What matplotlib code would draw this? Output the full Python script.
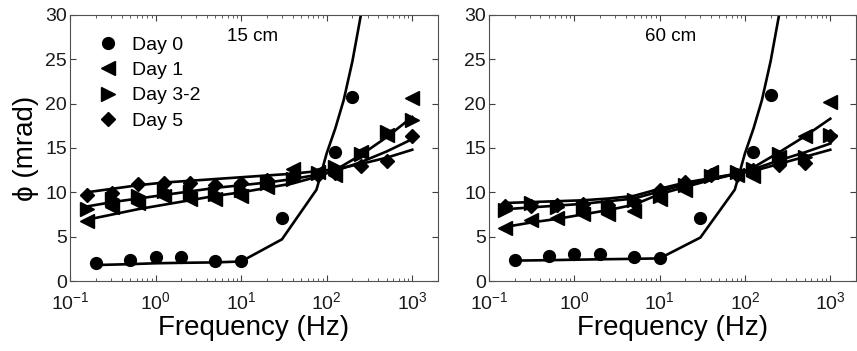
import matplotlib
matplotlib.use("Agg")
import matplotlib.pyplot as plt
from matplotlib.ticker import LogLocator, NullFormatter

plt.rcParams['font.family'] = ['Liberation Sans', 'DejaVu Sans']
plt.rcParams['mathtext.default'] = 'regular'

# frequencies (Hz)
freq_day0 = [0.2, 0.5, 1, 2, 5, 10, 30, 125, 200]
fit_freq_day0 = [0.2, 0.5, 1, 2, 5, 10, 30, 76, 100, 126, 158, 200, 251, 316]
freq = [0.156, 0.3125, 0.625, 1.25, 2.5, 5, 10, 20, 40, 80, 125, 250, 500, 1000]

labels = ['Day 0', 'Day 1', 'Day 3-2', 'Day 5']
markers = ['o', '<', '>', 'D']

# 15 cm panel
d0_15 = [2.0, 2.4, 2.7, 2.7, 2.3, 2.2, 7.1, 14.6, 20.8]
d0_fit_15 = [1.8, 1.9, 2.0, 2.05, 2.1, 2.2, 4.7, 10.3, 14.4, 17.2, 20.4, 24.8, 30.0, 36.0]
d1_15 = [6.8, 8.3, 8.8, 9.6, 9.2, 9.3, 9.6, 10.6, 12.6, 12.3, 12.0, 14.6, 16.5, 20.6]
d32_15 = [8.1, 9.3, 9.6, 10.2, 10.0, 9.8, 10.3, 11.0, 11.5, 12.2, 12.9, 14.3, 16.8, 18.2]
d5_15 = [9.7, 9.9, 10.9, 11.1, 11.0, 10.8, 11.0, 11.4, 11.8, 12.0, 12.2, 13.0, 13.5, 16.4]
d1_fit_15 = [6.9, 7.5, 8.1, 8.6, 9.1, 9.6, 10.0, 10.5, 11.0, 11.8, 12.5, 14.2, 16.2, 18.5]
d32_fit_15 = [8.4, 8.9, 9.3, 9.7, 10.1, 10.5, 10.8, 11.1, 11.5, 12.0, 12.4, 13.4, 14.6, 16.0]
d5_fit_15 = [10.0, 10.4, 10.8, 11.1, 11.3, 11.5, 11.7, 11.9, 12.1, 12.4, 12.6, 13.2, 13.9, 14.8]

# 60 cm panel
d0_60 = [2.4, 2.8, 3.1, 3.0, 2.7, 2.6, 7.1, 14.6, 21.0]
d0_fit_60 = [2.3, 2.35, 2.4, 2.45, 2.5, 2.55, 4.9, 10.3, 14.4, 17.2, 20.4, 24.8, 30.0, 36.0]
d1_60 = [6.0, 6.9, 7.1, 7.5, 7.5, 7.9, 9.3, 10.3, 12.3, 12.0, 11.8, 14.0, 16.3, 20.2]
d32_60 = [8.0, 8.8, 8.3, 8.2, 8.4, 9.1, 9.6, 10.8, 11.8, 12.3, 12.6, 14.3, 14.0, 16.5]
d5_60 = [8.5, 8.5, 8.6, 8.7, 8.6, 8.9, 10.3, 11.2, 12.0, 12.0, 12.5, 13.1, 13.3, 16.3]
d1_fit_60 = [6.1, 6.6, 7.0, 7.5, 8.0, 8.6, 9.8, 10.6, 11.4, 12.1, 12.8, 14.5, 16.3, 18.3]
d32_fit_60 = [8.1, 8.3, 8.5, 8.7, 9.0, 9.3, 10.1, 10.9, 11.5, 12.1, 12.6, 13.6, 14.5, 15.5]
d5_fit_60 = [8.8, 8.9, 9.0, 9.1, 9.3, 9.6, 10.4, 11.1, 11.6, 12.1, 12.4, 13.2, 14.0, 14.8]


def draw_panel(ax, title, d0, d0_fit, d1, d32, d5, d1_fit, d32_fit, d5_fit, legend):
    ax.plot(fit_freq_day0, d0_fit, color='black', lw=1.9)
    for fit in (d1_fit, d32_fit, d5_fit):
        ax.plot(freq, fit, color='black', lw=1.9)
    handles = []
    h, = ax.plot(freq_day0, d0, 'o', color='black', ms=8.5, ls='none')
    handles.append(h)
    for vals, m in zip((d1, d32, d5), markers[1:]):
        ms = 7.5 if m == 'D' else 10
        h, = ax.plot(freq, vals, m, color='black', ms=ms, ls='none')
        handles.append(h)

    ax.set_xscale('log')
    ax.set_xlim(0.1, 2000)
    ax.set_ylim(0, 30)
    ax.set_yticks(range(0, 31, 5))
    ax.xaxis.set_major_locator(LogLocator(base=10, numticks=10))
    ax.xaxis.set_minor_locator(LogLocator(base=10, subs=range(2, 10), numticks=10))
    ax.xaxis.set_minor_formatter(NullFormatter())
    ax.tick_params(which='both', direction='in', top=True, right=True,
                   labelsize=14, colors='#404040', labelcolor='#1a1a1a')
    ax.tick_params(which='major', length=4)
    ax.tick_params(which='minor', length=2)
    ax.tick_params(axis='x', pad=7)
    ax.tick_params(axis='y', pad=2)
    for s in ax.spines.values():
        s.set_color('#505050')
        s.set_linewidth(0.8)
    ax.set_xlabel('Frequency (Hz)', fontsize=20, labelpad=2)
    ax.text(0.495, 0.92, title, transform=ax.transAxes, ha='center', va='center', fontsize=13.5)
    if legend:
        ax.legend(handles, labels, loc='upper left', frameon=False, fontsize=14,
                  handletextpad=0.45, labelspacing=0.4, borderaxespad=0.0,
                  handlelength=1.6, bbox_to_anchor=(0.04, 0.95))


fig = plt.figure(figsize=(8.57, 3.51), dpi=100)
ax1 = fig.add_axes([0.0817, 0.1994, 0.4294, 0.758])
ax2 = fig.add_axes([0.5706, 0.1994, 0.4282, 0.758])

draw_panel(ax1, '15 cm', d0_15, d0_fit_15, d1_15, d32_15, d5_15,
           d1_fit_15, d32_fit_15, d5_fit_15, True)
draw_panel(ax2, '60 cm', d0_60, d0_fit_60, d1_60, d32_60, d5_60,
           d1_fit_60, d32_fit_60, d5_fit_60, False)
ax1.set_ylabel('ϕ (mrad)', fontsize=20, labelpad=5)

fig.savefig('out.png', dpi=100)
